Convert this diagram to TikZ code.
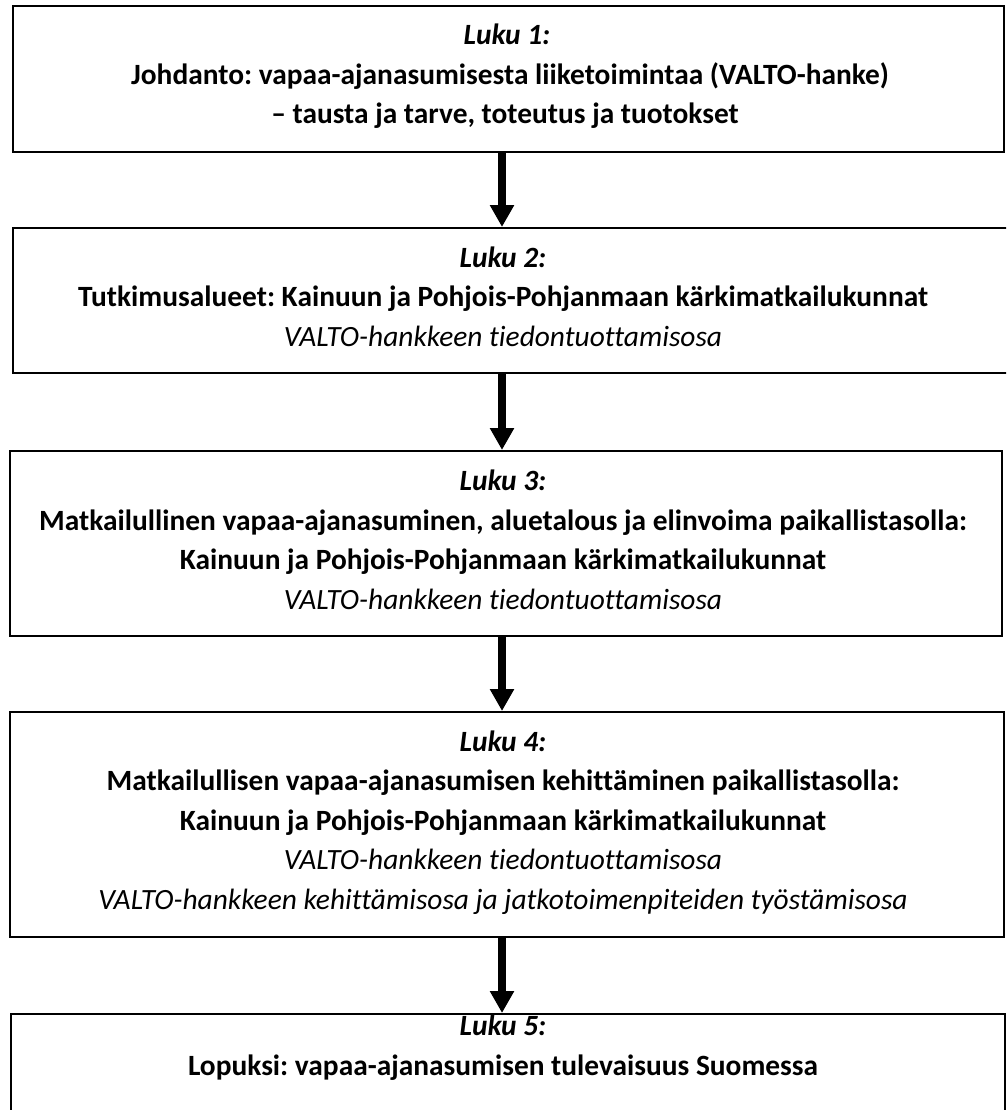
\documentclass[tikz,border=0pt]{standalone}
\usepackage{fontspec}
\setmainfont{Carlito}[Ligatures={NoCommon,NoContextual}]
\usetikzlibrary{arrows.meta}
\frenchspacing
\tikzset{
  box/.style={draw=black, line width=2pt, rectangle, inner sep=0pt, anchor=north west, fill=none},
  ln/.style={anchor=base, inner sep=0pt, font=\fontsize{29.4}{40}\selectfont},
  lnbi/.style={ln, font=\fontsize{29.4}{40}\selectfont\bfseries\itshape},
  lnb/.style={ln, font=\fontsize{29.4}{40}\selectfont\bfseries},
  lni/.style={ln, font=\fontsize{29.4}{40}\selectfont\itshape},
  arr/.style={line width=8pt, -{Triangle[width=23pt,length=22pt]}}
}
\begin{document}
\begin{tikzpicture}[x=1pt,y=-1pt]
\clip (0,0) rectangle (1006,1110);
\fill[white] (0,0) rectangle (1006,1110);
% boxes
\node[box, minimum width=991pt, minimum height=146pt] (b1) at (12,5) {};
\node[box, minimum width=1000pt, minimum height=145pt] (b2) at (12,227) {};
\node[box, minimum width=992pt, minimum height=185pt] (b3) at (9,450) {};
\node[box, minimum width=994pt, minimum height=225pt] (b4) at (9,711) {};
\node[box, minimum width=994pt, minimum height=150pt] (b5) at (10,1013) {};
% texts box 1
\node[lnbi] (t1a) at (507,45) {Luku 1:};
\node[lnb] (t1b) at (510,84.5) {Johdanto: vapaa-ajanasumisesta liiketoimintaa (VALTO-hanke)};
\node[lnb] (t1c) at (505,124) {– tausta ja tarve, toteutus ja tuotokset};
% box 2
\node[lnbi] (t2a) at (503,267) {Luku 2:};
\node[lnb] (t2b) at (503,306.5) {Tutkimusalueet: Kainuun ja Pohjois-Pohjanmaan kärkimatkailukunnat};
\node[lni] (t2c) at (503,346) {VALTO-hankkeen tiedontuottamisosa};
% box 3
\node[lnbi] (t3a) at (503,490) {Luku 3:};
\node[lnb] (t3b) at (503,530) {Matkailullinen vapaa-ajanasuminen, aluetalous ja elinvoima paikallistasolla:};
\node[lnb] (t3c) at (503,569) {Kainuun ja Pohjois-Pohjanmaan kärkimatkailukunnat};
\node[lni] (t3d) at (503,609) {VALTO-hankkeen tiedontuottamisosa};
% box 4
\node[lnbi] (t4a) at (503,751) {Luku 4:};
\node[lnb] (t4b) at (503,790.5) {Matkailullisen vapaa-ajanasumisen kehittäminen paikallistasolla:};
\node[lnb] (t4c) at (503,830) {Kainuun ja Pohjois-Pohjanmaan kärkimatkailukunnat};
\node[lni] (t4d) at (503,869.5) {VALTO-hankkeen tiedontuottamisosa};
\node[lni] (t4e) at (503,909) {VALTO-hankkeen kehittämisosa ja jatkotoimenpiteiden työstämisosa};
% box 5
\node[lnbi] (t5a) at (503,1035) {Luku 5:};
\node[lnb] (t5b) at (503,1075) {Lopuksi: vapaa-ajanasumisen tulevaisuus Suomessa};
% arrows
\coordinate (ax) at (502,0);
\draw[arr] (ax |- b1.south) -- (ax |- b2.north);
\draw[arr] (ax |- b2.south) -- (ax |- b3.north);
\draw[arr] (ax |- b3.south) -- (ax |- b4.north);
\draw[arr] (ax |- b4.south) -- (ax |- b5.north);
\end{tikzpicture}
\end{document}
